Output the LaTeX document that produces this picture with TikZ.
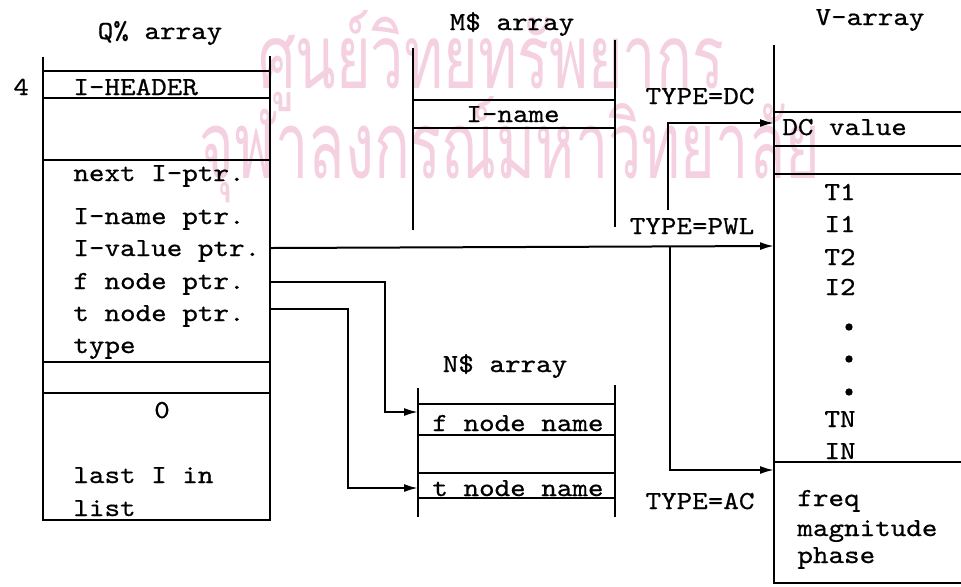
\documentclass[tikz,border=0pt]{standalone}
\usepackage{fontspec}
\setmonofont{lmmono10-regular.otf}[FakeStretch=1.14, FakeBold=0.6]
\newfontfamily\thaifont[Script=Thai]{Loma}
\usepackage{xcolor}
\usepackage{graphicx}
\usetikzlibrary{arrows.meta,positioning,calc}
\definecolor{marcadagua}{RGB}{245,208,224}
\tikzset{
    campo/.style={
        font=\ttfamily\fontsize{13}{15}\selectfont,
        inner sep=0pt,
        anchor=base west
    },
    rotulo/.style={campo, anchor=base},
    parede/.style={line width=1.1pt},
    fluxo/.style={line width=1pt, -{Latex[length=7pt,width=4pt]}},
    ponto/.style={circle, fill, inner sep=1.3pt},
    marca/.style={font=\thaifont, text=marcadagua, inner sep=0pt, anchor=base}
}

\begin{document}
\begin{tikzpicture}[x=0.5pt, y=-0.5pt]
    \useasboundingbox (0,0) rectangle (961,586);

    % marca d'agua do scan
    \node[marca] (marca1) at (491,88) {\resizebox{233pt}{39pt}{ศูนย์วิทยทรัพยากร}};
    \node[marca] (marca2) at (510,178) {\resizebox{310pt}{41pt}{จุฬาลงกรณ์มหาวิทยาลัย}};

    % Q% array
    \draw[parede] (43,57) -- (43,520) -- (270,520) -- (270,56);
    \foreach \y in {71,98,160,362,393}
        \draw[parede] (43,\y) -- (270,\y);
    \node[rotulo] (tituloQ) at (160,39) {Q\% array};
    \node[campo] (quatro) at (13,95) {4};
    \node[campo] (cabecalho) at (73,95) {I-HEADER};
    \node[campo] (proximo) at (73,181) {next I-ptr.};
    \node[campo] (inome) at (73,224) {I-name ptr.};
    \node[campo] (ivalor) at (73,256) {I-value ptr.};
    \node[campo] (fno) at (73,289) {f node ptr.};
    \node[campo] (tno) at (73,321) {t node ptr.};
    \node[campo] (tipo) at (73,353) {type};
    \node[rotulo] (zero) at (162,418) {0};
    \node[campo] (ultimo) at (73,483) {last I in};
    \node[campo] (lista) at (73,516) {list};

    % M$ array
    \draw[parede] (413,48) -- (413,230);
    \draw[parede] (615,40) -- (615,227);
    \foreach \y in {100,128}
        \draw[parede] (413,\y) -- (615,\y);
    \node[rotulo] (tituloM) at (512,30) {M\$ array};
    \node[rotulo] (nomeI) at (513,122) {I-name};

    % N$ array
    \draw[parede] (418,388) -- (418,517);
    \draw[parede] (615,385) -- (615,517);
    \foreach \y in {404,435,473,498}
        \draw[parede] (418,\y) -- (615,\y);
    \node[rotulo] (tituloN) at (505,372) {N\$ array};
    \node[campo] (fnome) at (432,431) {f node name};
    \node[campo] (tnome) at (432,496) {t node name};

    % V-array
    \draw[parede] (774,45) -- (774,583) -- (961,583);
    \foreach \y in {112,146,174,462}
        \draw[parede] (774,\y) -- (961,\y);
    \node[rotulo] (tituloV) at (870,25) {V-array};
    \node[campo] (dcvalor) at (782,135) {DC value};
    \node[rotulo] (t1) at (840,200) {T1};
    \node[rotulo] (i1) at (840,232) {I1};
    \node[rotulo] (t2) at (840,265) {T2};
    \node[rotulo] (i2) at (840,295) {I2};
    \foreach \y [count=\k] in {327,359,392}
        \node[ponto] (p\k) at (849,\y) {};
    \node[rotulo] (tn) at (840,427) {TN};
    \node[rotulo] (in) at (840,459) {IN};
    \node[campo] (freq) at (797,506) {freq};
    \node[campo] (magn) at (797,536) {magnitude};
    \node[campo] (fase) at (797,563) {phase};

    % tipos de fonte
    \node[rotulo] (tipoDC) at (700,104) {TYPE=DC};
    \node[rotulo] (tipoPWL) at (692,234) {TYPE=PWL};
    \node[rotulo] (tipoAC) at (700,509) {TYPE=AC};

    % ponteiros
    \coordinate (saiI) at (270,248);
    \coordinate (entraPWL) at (774,246);
    \coordinate (ramo) at (670,247);
    \coordinate (ramoDC) at (668,210);
    \coordinate (entraDC) at (774,123);
    \coordinate (entraAC) at (774,470);
    \coordinate (saiF) at (270,282);
    \coordinate (dobraF) at (385,412);
    \coordinate (entraF) at (418,412);
    \coordinate (saiT) at (270,309);
    \coordinate (dobraT) at (348,488);
    \coordinate (entraT) at (418,488);

    \draw[fluxo] (saiI) -- (entraPWL);
    \draw[fluxo] (ramoDC) |- (entraDC);
    \draw[fluxo] (ramo) |- (entraAC);
    \draw[fluxo] (saiF) -| (dobraF) -- (entraF);
    \draw[fluxo] (saiT) -| (dobraT) -- (entraT);
\end{tikzpicture}
\end{document}
